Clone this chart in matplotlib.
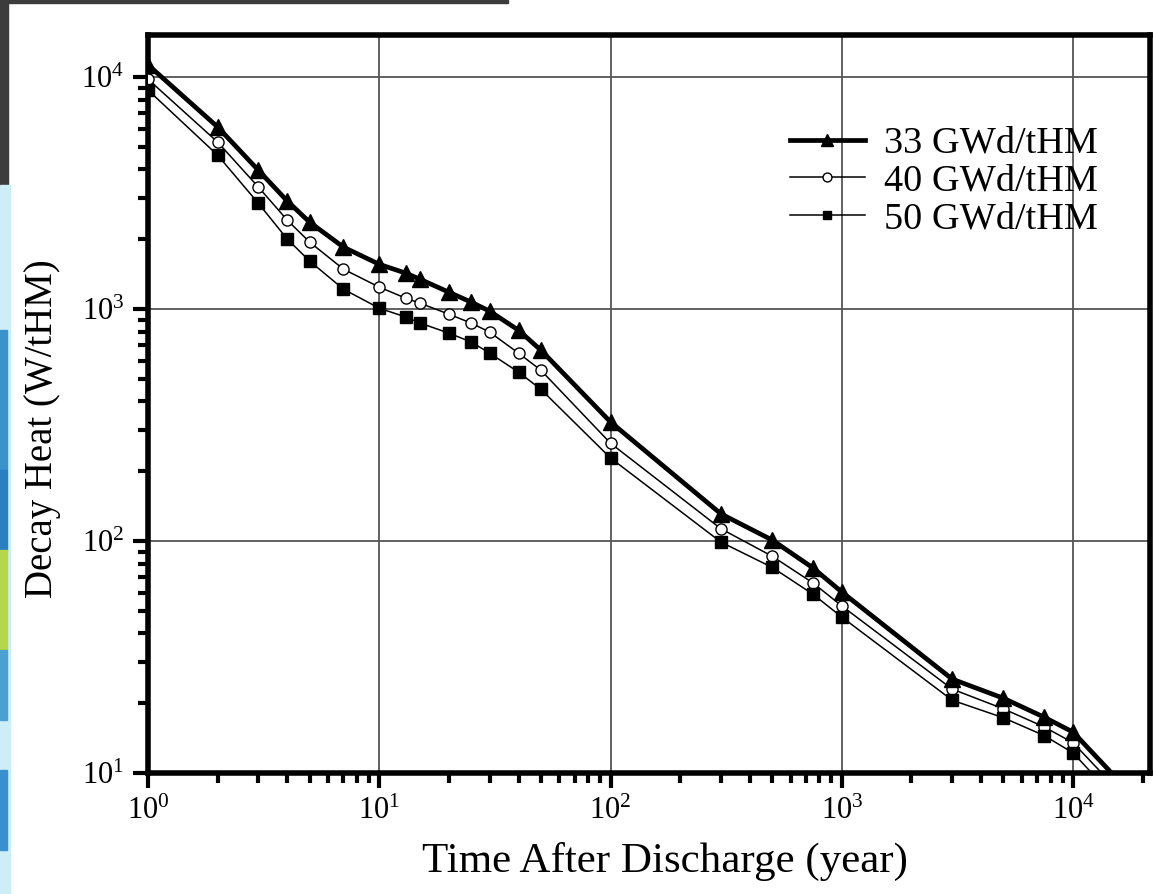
import matplotlib
matplotlib.use("Agg")
import matplotlib.pyplot as plt
from matplotlib.patches import Rectangle
from matplotlib.ticker import LogLocator, NullFormatter

plt.rcParams['font.family'] = ['Liberation Serif', 'DejaVu Serif']
plt.rcParams['mathtext.fontset'] = 'stix'

# time after discharge (years)
time_years = [1, 2, 3, 4, 5, 7, 10, 13, 15, 20, 25, 30, 40, 50, 100,
              300, 500, 750, 1000, 3000, 5000, 7500, 10000, 20000]

heat_33 = [11300, 6100, 3970, 2925, 2370, 1850, 1560, 1430, 1345, 1183, 1071, 980,
           811, 665, 326, 131, 101, 76.6, 60.3, 25.4, 21.0, 17.4, 15.0, 7.2]
heat_40 = [9800, 5250, 3360, 2420, 1945, 1487, 1244, 1115, 1061, 951, 870, 796,
           646, 545, 264, 113, 86, 66, 52.5, 23.0, 18.9, 15.8, 13.5, 6.5]
heat_50 = [8800, 4610, 2860, 2005, 1611, 1219, 1009, 925, 871, 788, 721, 646,
           535, 451, 228, 99, 77, 59, 47, 20.6, 17.3, 14.5, 12.2, 5.8]

labels = ['33 GWd/tHM', '40 GWd/tHM', '50 GWd/tHM']

W, H = 1153, 894
fig = plt.figure(figsize=(W / 100, H / 100), dpi=100)

# decorative background fragments from the screenshot
fig.patches.append(Rectangle((0, 1 - 185 / H), 8 / W, 185 / H, transform=fig.transFigure,
                             color='#3c3c3c', zorder=0))
fig.patches.append(Rectangle((0, 1 - 3 / H), 508 / W, 3 / H, transform=fig.transFigure,
                             color='#3c3c3c', zorder=0))
fig.patches.append(Rectangle((0, 0), 10 / W, (H - 185) / H, transform=fig.transFigure,
                             color='#cdeef6', zorder=0))
for y0, y1, c in [(330, 470, '#3b93cc'), (470, 550, '#2a7fc0'), (550, 650, '#b5d84a'),
                  (650, 720, '#4aa0d0'), (770, 850, '#3a8fd0')]:
    fig.patches.append(Rectangle((0, 1 - y1 / H), 7 / W, (y1 - y0) / H,
                                 transform=fig.transFigure, color=c, zorder=0))

ax = fig.add_axes([148 / W, 1 - 773 / H, (1150 - 148) / W, (773 - 35) / H])
ax.set_xscale('log')
ax.set_yscale('log')
ax.set_xlim(1, 2.15e4)
ax.set_ylim(10, 1.52e4)

ax.plot(time_years, heat_33, '-', color='black', lw=3.4, marker='^', ms=11,
        mfc='black', mec='black', label=labels[0], clip_on=True, zorder=4)
ax.plot(time_years, heat_40, '-', color='black', lw=1.1, marker='o', ms=8,
        mfc='white', mec='black', mew=1.0, label=labels[1], clip_on=True, zorder=3)
ax.plot(time_years, heat_50, '-', color='black', lw=1.1, marker='s', ms=8,
        mfc='black', mec='black', label=labels[2], clip_on=True, zorder=3)

ax.grid(True, which='major', color='#555555', lw=1.3)
ax.set_axisbelow(True)
for s in ax.spines.values():
    s.set_linewidth(4)

ax.xaxis.set_major_locator(LogLocator(base=10, numticks=10))
ax.xaxis.set_minor_locator(LogLocator(base=10, subs=range(2, 10), numticks=20))
ax.yaxis.set_major_locator(LogLocator(base=10, numticks=10))
ax.yaxis.set_minor_locator(LogLocator(base=10, subs=range(2, 10), numticks=20))
ax.xaxis.set_minor_formatter(NullFormatter())
ax.yaxis.set_minor_formatter(NullFormatter())

ax.tick_params(which='major', direction='out', length=11, width=3, labelsize=22, pad=6)
ax.tick_params(which='minor', direction='out', length=7, width=3)

ax.set_xlabel('Time After Discharge (year)', fontsize=31)
ax.set_ylabel('Decay Heat (W/tHM)', fontsize=28)
ax.xaxis.set_label_coords(0.516, -0.094)
ax.yaxis.set_label_coords(-0.087, 0.467)

leg = ax.legend(loc='upper right', bbox_to_anchor=(0.982, 0.923), frameon=False,
                fontsize=27.5, handlelength=1.95, handletextpad=0.5, labelspacing=0.08,
                markerscale=0.8)

fig.savefig('out.png', dpi=100)
